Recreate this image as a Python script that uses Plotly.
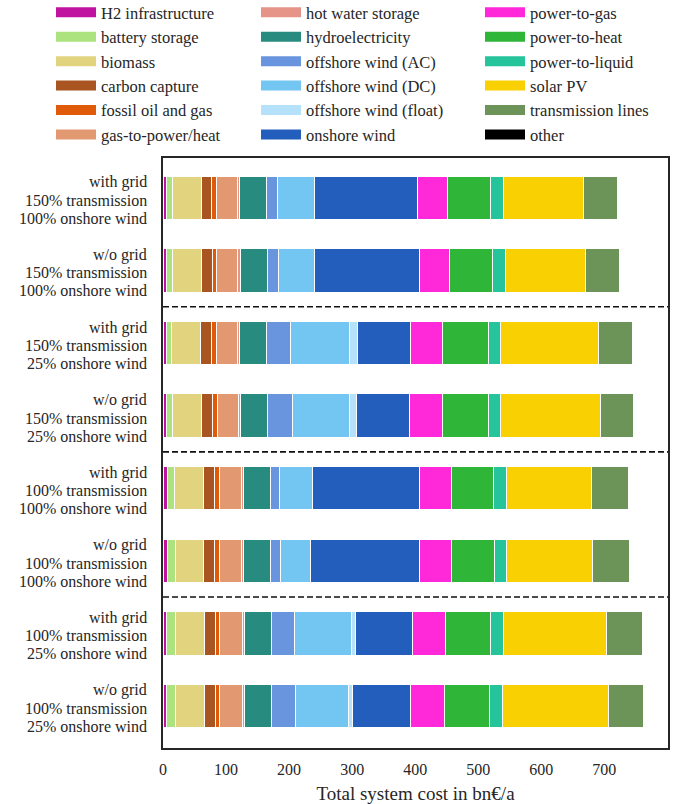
import plotly.graph_objects as go

categories = [
    "with grid|150% transmission|100% onshore wind",
    "w/o grid|150% transmission|100% onshore wind",
    "with grid|150% transmission|25% onshore wind",
    "w/o grid|150% transmission|25% onshore wind",
    "with grid|100% transmission|100% onshore wind",
    "w/o grid|100% transmission|100% onshore wind",
    "with grid|100% transmission|25% onshore wind",
    "w/o grid|100% transmission|25% onshore wind",
]

h2_infrastructure = [5.3, 5.8, 4.8, 4.8, 7.2, 7.2, 5.3, 5.3]
battery_storage = [9.0, 9.6, 9.2, 10.6, 11.6, 11.9, 14.6, 14.6]
biomass = [46.1, 46.1, 46.2, 45.8, 45.6, 45.6, 45.3, 45.3]
carbon_capture = [17.0, 17.0, 17.0, 17.5, 17.5, 17.2, 17.5, 17.5]
fossil_oil_gas = [7.4, 7.1, 7.9, 8.0, 7.5, 8.0, 7.5, 7.7]
gas_to_power_heat = [32.9, 33.2, 32.6, 33.7, 34.7, 34.7, 35.5, 35.8]
hot_water_storage = [3.7, 4.2, 3.7, 2.9, 4.0, 3.7, 3.7, 3.5]
hydroelectricity = [42.5, 42.2, 42.7, 42.7, 42.4, 42.7, 42.7, 42.9]
offshore_ac = [18.0, 18.5, 37.4, 40.0, 14.6, 14.6, 36.6, 37.1]
offshore_dc = [57.8, 56.3, 94.9, 90.4, 51.9, 49.0, 89.9, 83.8]
offshore_float = [0.0, 0.0, 12.2, 10.4, 0.0, 0.0, 7.1, 6.4]
onshore_wind = [164.4, 166.7, 83.3, 84.5, 170.5, 172.9, 90.2, 92.2]
power_to_gas = [47.2, 47.8, 51.4, 52.0, 49.6, 49.6, 52.7, 53.6]
power_to_heat = [68.4, 68.9, 72.9, 72.9, 67.9, 68.4, 71.1, 72.1]
power_to_liquid = [20.1, 19.6, 19.4, 19.4, 20.1, 19.6, 20.7, 20.7]
solar_pv = [126.8, 127.0, 155.6, 158.8, 135.3, 136.6, 163.8, 167.6]
transmission_lines = [54.1, 53.3, 53.3, 51.2, 57.8, 57.5, 55.7, 55.9]
other = [0, 0, 0, 0, 0, 0, 0, 0]

x_ticks = [0, 100, 200, 300, 400, 500, 600, 700]

series = [
    ("H2 infrastructure", h2_infrastructure, "#bf13a0", "legend"),
    ("battery storage", battery_storage, "#ace37f", "legend"),
    ("biomass", biomass, "#e2d47f", "legend"),
    ("carbon capture", carbon_capture, "#a85522", "legend"),
    ("fossil oil and gas", fossil_oil_gas, "#e05b09", "legend"),
    ("gas-to-power/heat", gas_to_power_heat, "#e29870", "legend"),
    ("hot water storage", hot_water_storage, "#e69487", "legend2"),
    ("hydroelectricity", hydroelectricity, "#288b80", "legend2"),
    ("offshore wind (AC)", offshore_ac, "#6895dd", "legend2"),
    ("offshore wind (DC)", offshore_dc, "#74c6f2", "legend2"),
    ("offshore wind (float)", offshore_float, "#b5e2fa", "legend2"),
    ("onshore wind", onshore_wind, "#235ebc", "legend2"),
    ("power-to-gas", power_to_gas, "#ff29d9", "legend3"),
    ("power-to-heat", power_to_heat, "#2fb537", "legend3"),
    ("power-to-liquid", power_to_liquid, "#25c49a", "legend3"),
    ("solar PV", solar_pv, "#f9d002", "legend3"),
    ("transmission lines", transmission_lines, "#6c9459", "legend3"),
    ("other", other, "#000000", "legend3"),
]

FONT = "Liberation Serif, Times New Roman, serif"
TXT = "#262626"

fig = go.Figure()
for name, vals, color, lg in series:
    fig.add_trace(go.Bar(
        name=name, x=vals, y=categories, orientation="h",
        marker=dict(color=color, line=dict(color="white", width=1)),
        width=0.6, showlegend=False, legendgroup=name,
    ))
# legend entries (wide colour swatches)
for name, vals, color, lg in series:
    fig.add_trace(go.Scatter(
        name=name, x=[None], y=[None], mode="lines",
        line=dict(color=color, width=10), legend=lg, legendgroup=name,
        hoverinfo="skip",
    ))

for yv in [1.5, 3.5, 5.5]:
    fig.add_shape(type="line", xref="paper", x0=0, x1=1, yref="y", y0=yv, y1=yv,
                  line=dict(color="#111111", width=1.6, dash="6px,3px"), layer="above")

# multi-line category labels with tight line spacing
for cat in categories:
    lines = cat.split("|")
    for k, ln in enumerate(lines):
        fig.add_annotation(text=ln, xref="paper", x=0, xanchor="right", xshift=-15,
                           yref="y", y=cat, yanchor="middle", yshift=(1 - k) * 18 - 2.5,
                           borderpad=0, showarrow=False,
                           font=dict(family=FONT, size=16, color=TXT))

PW = 505.0  # plot width in px
PH = 590.0  # plot height in px
leg_common = dict(xref="paper", yref="paper", yanchor="top", xanchor="left",
                  font=dict(family=FONT, size=16.5, color=TXT), bgcolor="rgba(0,0,0,0)",
                  tracegroupgap=0, orientation="v", itemwidth=40)
fig.update_layout(
    barmode="stack",
    width=681, height=804,
    margin=dict(l=163, r=13, t=158, b=56, autoexpand=False),
    plot_bgcolor="white", paper_bgcolor="white",
    font=dict(family=FONT, size=16, color=TXT),
    legend=dict(x=(51 - 163) / PW, y=1 + 163 / PH, **leg_common),
    legend2=dict(x=(256 - 163) / PW, y=1 + 163 / PH, **leg_common),
    legend3=dict(x=(480 - 163) / PW, y=1 + 163 / PH, **leg_common),
    xaxis=dict(range=[0, 801], tickvals=x_ticks,
               showgrid=False, zeroline=False, showline=True, mirror=True,
               linecolor=TXT, linewidth=2, ticks="", ticklabelstandoff=6,
               automargin=False,
               tickfont=dict(family=FONT, size=16, color=TXT),
               title=dict(text="Total system cost in bn€/a", font=dict(family=FONT, size=19, color=TXT),
                          standoff=10)),
    yaxis=dict(type="category", categoryorder="array", categoryarray=categories,
               range=[7.58, -0.55], showgrid=False, zeroline=False, showline=True,
               automargin=False, showticklabels=False,
               mirror=True, linecolor=TXT, linewidth=2, ticks=""),
)

fig.write_html("out.html", config={"displayModeBar": False},
               post_script="document.body.style.margin='0px';")
